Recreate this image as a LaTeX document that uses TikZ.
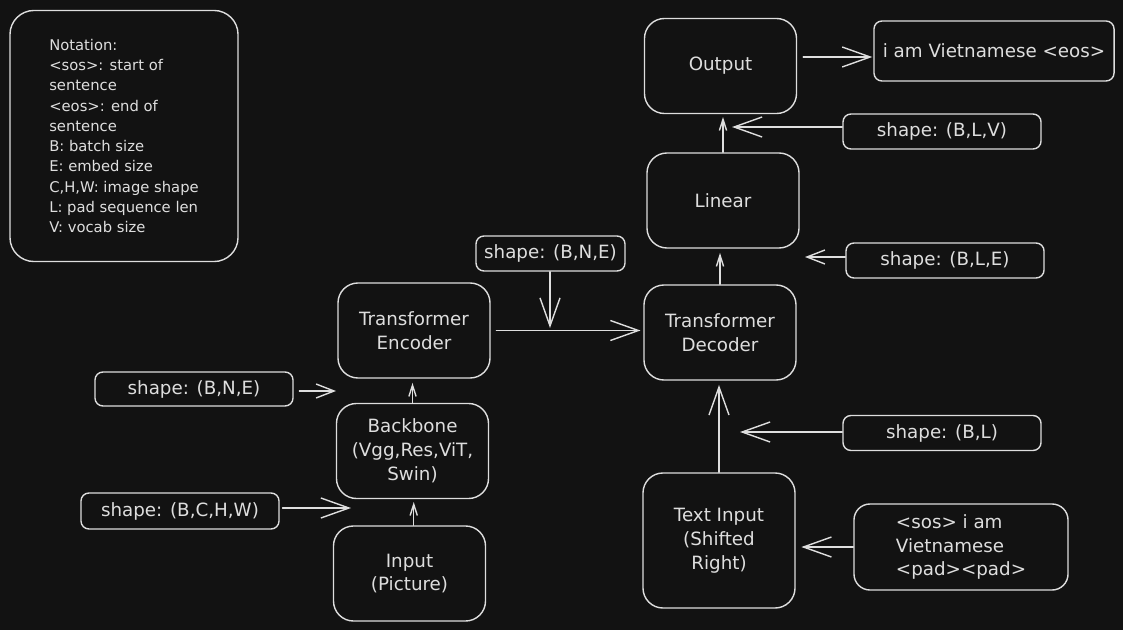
\documentclass[tikz,border=0pt]{standalone}
\usepackage{fontspec}
\setmainfont{DejaVu Sans}
\usepackage{tikz}
\usetikzlibrary{arrows.meta}
\definecolor{bg}{RGB}{18,18,18}
\definecolor{ink}{RGB}{222,222,222}

\begin{document}
\begin{tikzpicture}[x=0.025cm,y=-0.025cm,
    box/.style={draw=ink, line width=1pt, rounded corners=0.5cm, minimum width=3.8cm, minimum height=2.375cm, align=center, text=ink, font=\fontsize{13}{17}\selectfont},
    shapebox/.style={draw=ink, line width=1pt, rounded corners=0.2cm, minimum width=4.95cm, minimum height=0.875cm, text=ink, font=\fontsize{13}{17}\selectfont},
    bigarrow/.style={draw=ink, line width=1pt, line cap=round, -{Straight Barb[length=0.7cm,width=0.5cm]}},
    midarrow/.style={draw=ink, line width=1pt, line cap=round, -{Straight Barb[length=0.45cm,width=0.35cm]}},
    smallarrow/.style={draw=ink, line width=1pt, line cap=round, -{Straight Barb[length=0.28cm,width=0.18cm]}}]
     \fill[bg] (0,0) rectangle (1123,630);
     \useasboundingbox (0,0) rectangle (1123,630);

     \node[box, rounded corners=0.6cm, minimum width=5.7cm, minimum height=6.275cm, align=left, font=\fontsize{10.5}{14.4}\selectfont] (notation) at (124,136) {Notation:\\<sos>: start of\\sentence\\<eos>: end of\\sentence\\B: batch size\\E: embed size\\C,H,W: image shape\\L: pad sequence len\\V: vocab size};

     \node[box] (out) at (720.5,66) {Output};
     \node[shapebox, minimum width=6cm, minimum height=1.5cm] (eos) at (994,51) {i am Vietnamese <eos>};
     \node[shapebox] (blv) at (942,131.5) {shape: (B,L,V)};
     \node[box] (lin) at (723,200.5) {Linear};
     \node[shapebox] (ble) at (945,260.5) {shape: (B,L,E)};
     \node[box] (dec) at (720,332.5) {Transformer\\Decoder};
     \node[shapebox] (bl) at (942,433) {shape: (B,L)};
     \node[box, minimum height=3.375cm] (txt) at (719,540.5) {Text Input\\(Shifted\\Right)};
     \node[box, rounded corners=0.4cm, minimum width=5.35cm, minimum height=2.15cm, align=left] (sos) at (961,547) {<sos> i am\\Vietnamese\\<pad><pad>};

     \node[shapebox, minimum width=3.725cm] (bnet) at (550.5,253.5) {shape: (B,N,E)};
     \node[box] (enc) at (414,330.5) {Transformer\\Encoder};
     \node[shapebox, minimum height=0.85cm] (bnel) at (194,389) {shape: (B,N,E)};
     \node[box] (bb) at (412.5,451) {Backbone\\(Vgg,Res,ViT,\\Swin)};
     \node[shapebox, minimum height=0.9cm] (bchw) at (180,511) {shape: (B,C,H,W)};
     \node[box] (inp) at (409.5,573.5) {Input\\(Picture)};

     \coordinate (blvtip) at (732,127);
     \coordinate (bletip) at (805,257);
     \coordinate (bltip) at (740,432);
     \coordinate (bnettip) at (550,328);
     \coordinate (bneltip) at (336,391);
     \coordinate (bchwtip) at (351,508);

     \draw[bigarrow] ([shift={(6,-9)}]out.east) -- ([shift={(-1,6)}]eos.west);
     \draw[bigarrow] (blv.west |- blvtip) -- (blvtip);
     \draw[smallarrow, shorten >=2pt] (lin.north) -- (lin.north |- out.south);
     \draw[midarrow] (ble.west |- bletip) -- (bletip);
     \draw[smallarrow, shorten >=3pt] (dec.north) -- (dec.north |- lin.south);
     \draw[bigarrow] (bl.west |- bltip) -- (bltip);
     \draw[bigarrow, shorten >=3pt] (txt.north) -- (txt.north |- dec.south);
     \draw[bigarrow, shorten >=4pt] (sos.west) -- (sos.west -| txt.east);

     \draw[bigarrow] (bnet.south -| bnettip) -- (bnettip);
     \draw[bigarrow, shorten >=2pt] ([xshift=4pt]enc.east) -- (enc.east -| dec.west);
     \draw[midarrow] ([xshift=4pt]bnel.east |- bneltip) -- (bneltip);
     \draw[smallarrow, shorten >=3pt] (bb.north) -- (bb.north |- enc.south);
     \draw[bigarrow] ([xshift=2pt]bchw.east |- bchwtip) -- (bchwtip);
     \draw[smallarrow, shorten >=2pt] ([xshift=3pt]inp.north) -- ([xshift=3pt]inp.north |- bb.south);
\end{tikzpicture}
\end{document}
